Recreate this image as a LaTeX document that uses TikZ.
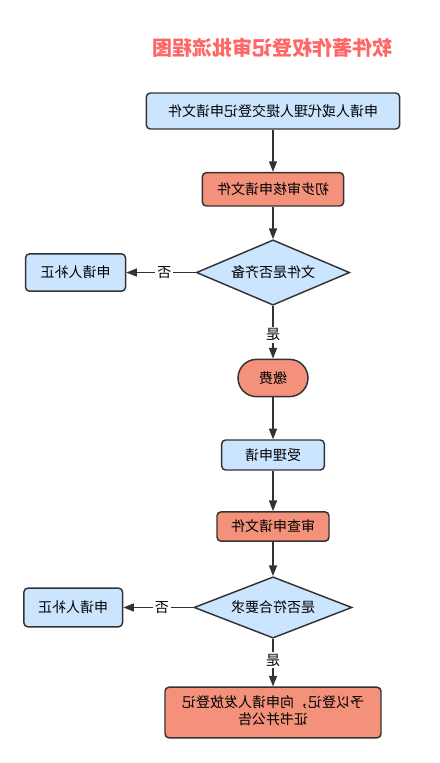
\documentclass[tikz,border=0pt]{standalone}
\usepackage{graphicx}
\usepackage{xcolor}
\usepackage{fontspec}
\newfontfamily\cjk{Noto Sans CJK SC}
\usepackage{tikz}
\usetikzlibrary{arrows.meta, positioning, shapes.geometric}

% the reference shows every text mirrored
\newcommand{\flip}[1]{\reflectbox{#1}}
\newcommand{\boxfont}{\cjk\fontsize{10.5}{13}\selectfont}

\begin{document}
\begin{tikzpicture}[
        node distance=30pt and 50pt,
        bluebox/.style={draw, rounded corners=3pt, line width=1.1pt,
            fill={rgb,255:red,204;green,229;blue,255},
            draw={rgb,255:red,51;green,51;blue,51},
            align=center, font=\boxfont, inner sep=2pt},
        redbox/.style={bluebox, fill={rgb,255:red,243;green,145;blue,122}},
        checkbox/.style={diamond, aspect=2.4, draw, line width=1.1pt,
            fill={rgb,255:red,204;green,229;blue,255},
            draw={rgb,255:red,51;green,51;blue,51},
            font=\boxfont, inner sep=0pt},
        arrow/.style={-{Triangle[length=8pt, width=6pt]}, line width=1.1pt,
            color={rgb,255:red,51;green,51;blue,51}},
        lbl/.style={fill=white, font=\boxfont, inner sep=1.5pt, text=black},
    ]
        \useasboundingbox (0,0) rectangle (329.25pt,-572.25pt);

        % Title
        \node[font=\cjk\bfseries\fontsize{15}{18}\selectfont, text={rgb,255:red,255;green,102;blue,102}]
            (title) at (204pt,-36pt) {\flip{软件著作权登记审批流程图}};

        % Main column
        \node[bluebox, minimum width=190pt, minimum height=27pt] (submit) at (204.75pt,-83.25pt)
            {\flip{申请人或代理人提交登记申请文件}};
        \node[redbox, minimum width=106pt, minimum height=25pt] (prereview) at (204.75pt,-142pt)
            {\flip{初步审核申请文件}};
        \node[checkbox, minimum width=115pt, minimum height=49pt] (complete) at (204.75pt,-204.4pt)
            {\flip{文件是否齐备}};
        \node[redbox, rounded corners=14pt, minimum width=52.5pt, minimum height=28pt]
            (fee) at (204.75pt,-283.5pt) {\flip{缴费}};
        \node[bluebox, minimum width=77pt, minimum height=22.5pt] (accept) at (204.75pt,-341.25pt)
            {\flip{受理申请}};
        \node[redbox, minimum width=84pt, minimum height=22pt] (examine) at (204.75pt,-394.9pt)
            {\flip{审查申请文件}};
        \node[checkbox, minimum width=118.5pt, minimum height=46pt] (meets) at (204.75pt,-455.6pt)
            {\flip{是否符合要求}};
        \node[redbox, minimum width=162pt, minimum height=38pt] (grant) at (204.75pt,-534.4pt)
            {\flip{\begin{tabular}{@{}c@{}}予以登记，向申请人发放登记\\证书并公告\end{tabular}}};

        % Correction boxes
        \node[bluebox, minimum width=75pt, minimum height=28pt, left=52pt of complete] (fixone)
            {\flip{申请人补正}};
        \node[bluebox, minimum width=74pt, minimum height=29pt, left=52.5pt of meets] (fixtwo)
            {\flip{申请人补正}};

        % Arrows
        \draw[arrow] (submit) -- (prereview);
        \draw[arrow] (prereview) -- (complete);
        \draw[arrow] (complete) -- node[lbl, pos=0.55]{\flip{是}} (fee);
        \draw[arrow] (complete) -- node[lbl, pos=0.45]{\flip{否}} (fixone);
        \draw[arrow] (fee) -- (accept);
        \draw[arrow] (accept) -- (examine);
        \draw[arrow] (examine) -- (meets);
        \draw[arrow] (meets) -- node[lbl, pos=0.45]{\flip{是}} (grant);
        \draw[arrow] (meets) -- node[lbl, pos=0.45]{\flip{否}} (fixtwo);

\end{tikzpicture}
\end{document}
